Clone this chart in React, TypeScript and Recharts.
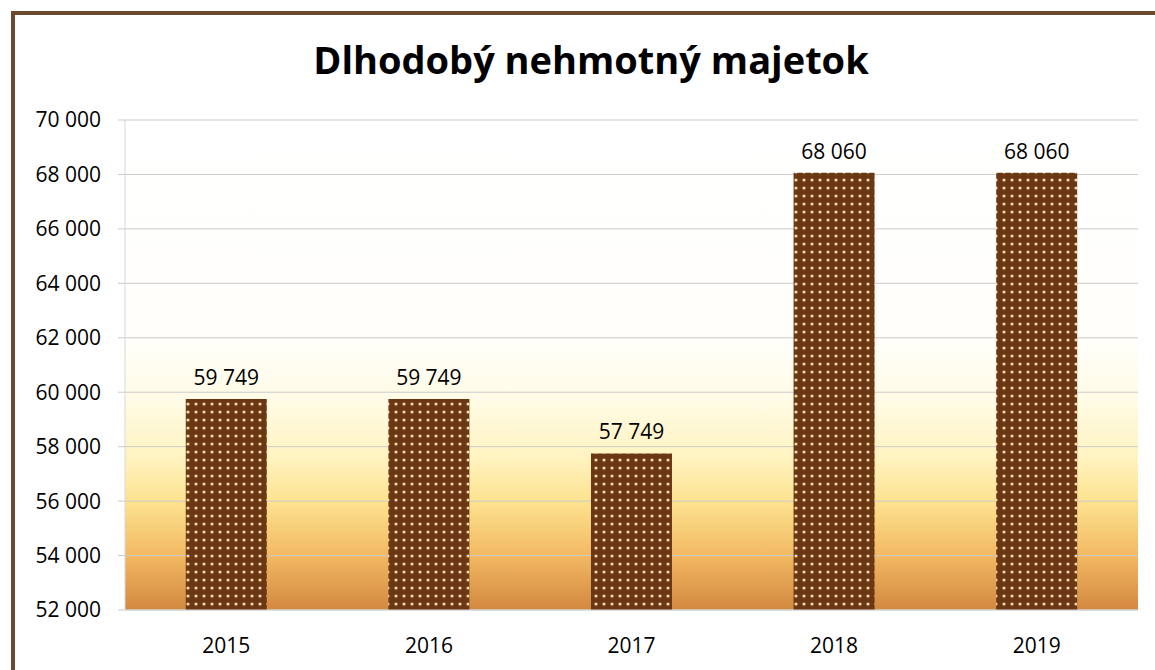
import { BarChart, Bar, XAxis, YAxis, CartesianGrid, LabelList } from 'recharts'

const years = ['2015', '2016', '2017', '2018', '2019']
const values = [59749, 59749, 57749, 68060, 68060]
const yTicks = [52000, 54000, 56000, 58000, 60000, 62000, 64000, 66000, 68000, 70000]

const data = years.map((year, i) => ({ year, value: values[i] }))

// "70 000" style, space as thousands separator
const fmt = (v: number) => String(v).replace(/\B(?=(\d{3})+(?!\d))/g, ' ')

const FONT = '"Open Sans", "Liberation Sans", sans-serif'

export default function App() {
  return (
    <div
      style={{
        position: 'absolute',
        left: 0,
        top: 0,
        width: 1155,
        height: 670,
        overflow: 'hidden',
        background: '#fff',
      }}
    >
      <div
        style={{
          position: 'absolute',
          left: 11,
          top: 11,
          width: 1160,
          height: 700,
          borderTop: '4px solid #6e4a2c',
          borderLeft: '4px solid #6e4a2c',
        }}
      />
      <div
        style={{
          position: 'absolute',
          left: 0,
          top: 33,
          width: 1182,
          textAlign: 'center',
          fontFamily: FONT,
          fontWeight: 700,
          fontSize: 38,
          color: '#000',
        }}
      >
        Dlhodobý nehmotný majetok
      </div>
      <div style={{ position: 'absolute', left: 0, top: 0 }}>
        <BarChart
          width={1155}
          height={670}
          data={data}
          margin={{ top: 120, right: 17, bottom: 0, left: 0 }}
          barCategoryGap="30%"
        >
          <defs>
            <linearGradient id="plotBg" x1="0" y1="0" x2="0" y2="1">
              <stop offset="0" stopColor="#ffffff" />
              <stop offset="0.45" stopColor="#fffefa" />
              <stop offset="0.57" stopColor="#fffbe6" />
              <stop offset="0.69" stopColor="#fff3c0" />
              <stop offset="0.78" stopColor="#fde28f" />
              <stop offset="0.89" stopColor="#f2b862" />
              <stop offset="1" stopColor="#d28840" />
            </linearGradient>
            <pattern id="dots" width="8" height="8" patternUnits="userSpaceOnUse">
              <rect width="8" height="8" fill="#6a3814" />
              <circle cx="4" cy="4" r="1.6" fill="#f6d8a6" />
            </pattern>
          </defs>
          <CartesianGrid
            vertical={false}
            stroke="#cbcbcb"
            fill="url(#plotBg)"
            fillOpacity={1}
          />
          <XAxis
            dataKey="year"
            axisLine={{ stroke: '#d8d8d8' }}
            tickLine={false}
            tickMargin={22}
            tick={{ fill: '#000', fontSize: 21, fontFamily: FONT }}
            height={60}
          />
          <YAxis
            domain={[52000, 70000]}
            ticks={yTicks}
            tickFormatter={fmt}
            width={125}
            axisLine={{ stroke: '#d8d8d8' }}
            tickLine={{ stroke: '#cbcbcb' }}
            tickSize={7}
            tickMargin={17}
            tick={{ fill: '#000', fontSize: 21, fontFamily: FONT }}
            allowDataOverflow
          />
          <Bar dataKey="value" fill="url(#dots)" isAnimationActive={false}>
            <LabelList
              dataKey="value"
              position="top"
              offset={14}
              formatter={(v: any) => fmt(Number(v))}
              style={{ fill: '#000', fontSize: 21, fontFamily: FONT }}
            />
          </Bar>
        </BarChart>
      </div>
    </div>
  )
}
